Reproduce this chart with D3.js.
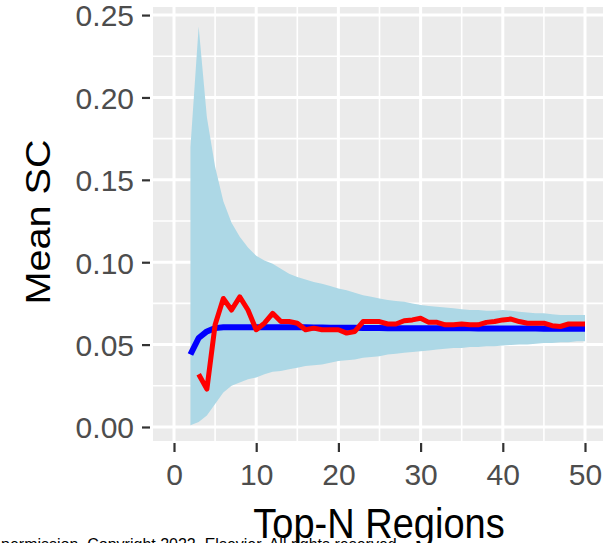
<!DOCTYPE html>
<html>
<head>
<meta charset="utf-8">
<script src="https://cdn.jsdelivr.net/npm/d3@7"></script>
<style>
  html, body { margin: 0; padding: 0; background: #fff; overflow: hidden; }
  text { font-family: "Liberation Sans", Arial, sans-serif; }
</style>
</head>
<body>
<div id="graph"></div>
<script>
// Top-N regions (x values)
var topN = d3.range(2, 51);

// band around the mean (lower / upper), one value per N = 2..50
var bandUpper = [0.170, 0.243, 0.188, 0.158, 0.137, 0.124, 0.1155, 0.109, 0.104, 0.101,
  0.099, 0.096, 0.093, 0.091, 0.0895, 0.088, 0.087, 0.0855, 0.084, 0.083,
  0.0815, 0.080, 0.079, 0.078, 0.077, 0.0765, 0.076, 0.075, 0.074, 0.0735,
  0.073, 0.0725, 0.072, 0.0715, 0.071, 0.071, 0.0705, 0.0705, 0.071, 0.0705,
  0.070, 0.0695, 0.069, 0.069, 0.0685, 0.068, 0.068, 0.068, 0.068];
var bandLower = [0.001, 0.003, 0.007, 0.014, 0.021, 0.025, 0.027, 0.029, 0.030, 0.032,
  0.0335, 0.034, 0.035, 0.036, 0.037, 0.0375, 0.038, 0.039, 0.040, 0.0405,
  0.041, 0.042, 0.0425, 0.043, 0.044, 0.0445, 0.045, 0.0455, 0.046, 0.0465,
  0.047, 0.0475, 0.048, 0.048, 0.0485, 0.0485, 0.049, 0.049, 0.0495, 0.0498,
  0.050, 0.050, 0.0505, 0.051, 0.051, 0.0515, 0.0515, 0.052, 0.052];

// expected mean (blue), N = 2..50
var meanExpected = [0.044, 0.054, 0.058, 0.0600, 0.0605, 0.0606, 0.0606, 0.0606, 0.0606, 0.0606,
  0.0606, 0.0606, 0.0605, 0.0605, 0.0605, 0.0604, 0.0604, 0.0603, 0.0603, 0.0602,
  0.0602, 0.0601, 0.0601, 0.0601, 0.0600, 0.0600, 0.0600, 0.0600, 0.0600, 0.0599,
  0.0599, 0.0599, 0.0599, 0.0599, 0.0599, 0.0598, 0.0598, 0.0598, 0.0598, 0.0598,
  0.0598, 0.0598, 0.0598, 0.0597, 0.0597, 0.0597, 0.0597, 0.0597, 0.0597];

// observed mean (red), N = 3..50
var observedN = d3.range(3, 51);
var meanObserved = [0.032, 0.023, 0.062, 0.078, 0.071, 0.079, 0.071, 0.059, 0.063, 0.069,
  0.064, 0.064, 0.063, 0.059, 0.060, 0.059, 0.059, 0.059, 0.057, 0.058,
  0.064, 0.064, 0.064, 0.0625, 0.0625, 0.0645, 0.065, 0.066, 0.0635, 0.0635,
  0.062, 0.062, 0.0625, 0.062, 0.062, 0.0635, 0.064, 0.065, 0.0655, 0.064,
  0.063, 0.063, 0.063, 0.0615, 0.061, 0.0625, 0.0625, 0.0625];

var xTicks = [0, 10, 20, 30, 40, 50];
var yTicks = [0, 0.05, 0.10, 0.15, 0.20, 0.25];
var xMinor = [5, 15, 25, 35, 45];
var yMinor = [0.025, 0.075, 0.125, 0.175, 0.225];

var WIDTH = 610, HEIGHT = 543;
var panel = { left: 153, right: 603, top: 7, bottom: 441 };

var x = d3.scaleLinear().domain([-2.555, 52.19]).range([panel.left, panel.right]);
var y = d3.scaleLinear().domain([-0.0085, 0.2549]).range([panel.bottom, panel.top]);

var svg = d3.select("#graph").append("svg")
  .attr("width", WIDTH)
  .attr("height", HEIGHT);

// panel background
svg.append("rect")
  .attr("x", panel.left).attr("y", panel.top)
  .attr("width", panel.right - panel.left)
  .attr("height", panel.bottom - panel.top)
  .attr("fill", "#ebebeb");

// grid
var grid = svg.append("g").attr("stroke", "#fff");
grid.selectAll(".vminor").data(xMinor).enter().append("line")
  .attr("x1", d => x(d)).attr("x2", d => x(d))
  .attr("y1", panel.top).attr("y2", panel.bottom)
  .attr("stroke-width", 1.6);
grid.selectAll(".hminor").data(yMinor).enter().append("line")
  .attr("y1", d => y(d)).attr("y2", d => y(d))
  .attr("x1", panel.left).attr("x2", panel.right)
  .attr("stroke-width", 1.6);
grid.selectAll(".vmajor").data(xTicks).enter().append("line")
  .attr("x1", d => x(d)).attr("x2", d => x(d))
  .attr("y1", panel.top).attr("y2", panel.bottom)
  .attr("stroke-width", 3);
grid.selectAll(".hmajor").data(yTicks).enter().append("line")
  .attr("y1", d => y(d)).attr("y2", d => y(d))
  .attr("x1", panel.left).attr("x2", panel.right)
  .attr("stroke-width", 3);

// ribbon
var band = topN.map((n, i) => ({ n: n, lo: bandLower[i], hi: bandUpper[i] }));
var area = d3.area()
  .x(d => x(d.n))
  .y0(d => y(d.lo))
  .y1(d => y(d.hi));
svg.append("path")
  .attr("d", area(band))
  .attr("fill", "#add8e6");

// lines
var line = d3.line().x(d => x(d[0])).y(d => y(d[1]));
svg.append("path")
  .attr("d", line(topN.map((n, i) => [n, meanExpected[i]])))
  .attr("fill", "none").attr("stroke", "#0000ff")
  .attr("stroke-width", 6).attr("stroke-linejoin", "round");
svg.append("path")
  .attr("d", line(observedN.map((n, i) => [n, meanObserved[i]])))
  .attr("fill", "none").attr("stroke", "#ff0000")
  .attr("stroke-width", 5).attr("stroke-linejoin", "round");

// axes
var xAxis = d3.axisBottom(x).tickValues(xTicks).tickSize(9).tickPadding(6)
  .tickFormat(d3.format("d"));
var yAxis = d3.axisLeft(y).tickValues(yTicks).tickSize(8).tickPadding(8)
  .tickFormat(d3.format(".2f"));

var gx = svg.append("g")
  .attr("transform", "translate(0," + (panel.bottom + 2) + ")")
  .call(xAxis);
var gy = svg.append("g")
  .attr("transform", "translate(" + (panel.left - 3) + ",0)")
  .call(yAxis);

[gx, gy].forEach(function (g) {
  g.select(".domain").remove();
  g.selectAll(".tick line").attr("stroke", "#333").attr("stroke-width", 2.2);
  g.selectAll(".tick text")
    .attr("fill", "#4d4d4d")
    .style("font-size", "30px")
    .style("font-family", "'Liberation Sans', Arial, sans-serif");
});
gy.selectAll(".tick text").attr("dy", "0.36em");
gx.selectAll(".tick text").attr("dy", "0.9em");

// axis titles
svg.append("text")
  .attr("transform", "translate(" + 50 + "," + 222 + ") scale(1,1.1) rotate(-90)")
  .attr("text-anchor", "middle")
  .style("font-size", "36px")
  .attr("fill", "#000")
  .text("Mean SC");

svg.append("text")
  .attr("transform", "translate(" + 379 + "," + 538 + ") scale(1,1.1)")
  .attr("text-anchor", "middle")
  .style("font-size", "38px")
  .attr("fill", "#000")
  .text("Top-N Regions");

// cut-off caption line at the bottom
svg.append("text")
  .attr("x", 1).attr("y", 550)
  .style("font-size", "16px")
  .attr("fill", "#000")
  .text("permission. Copyright 2022, Elsevier. All rights reserved.");
</script>
</body>
</html>
